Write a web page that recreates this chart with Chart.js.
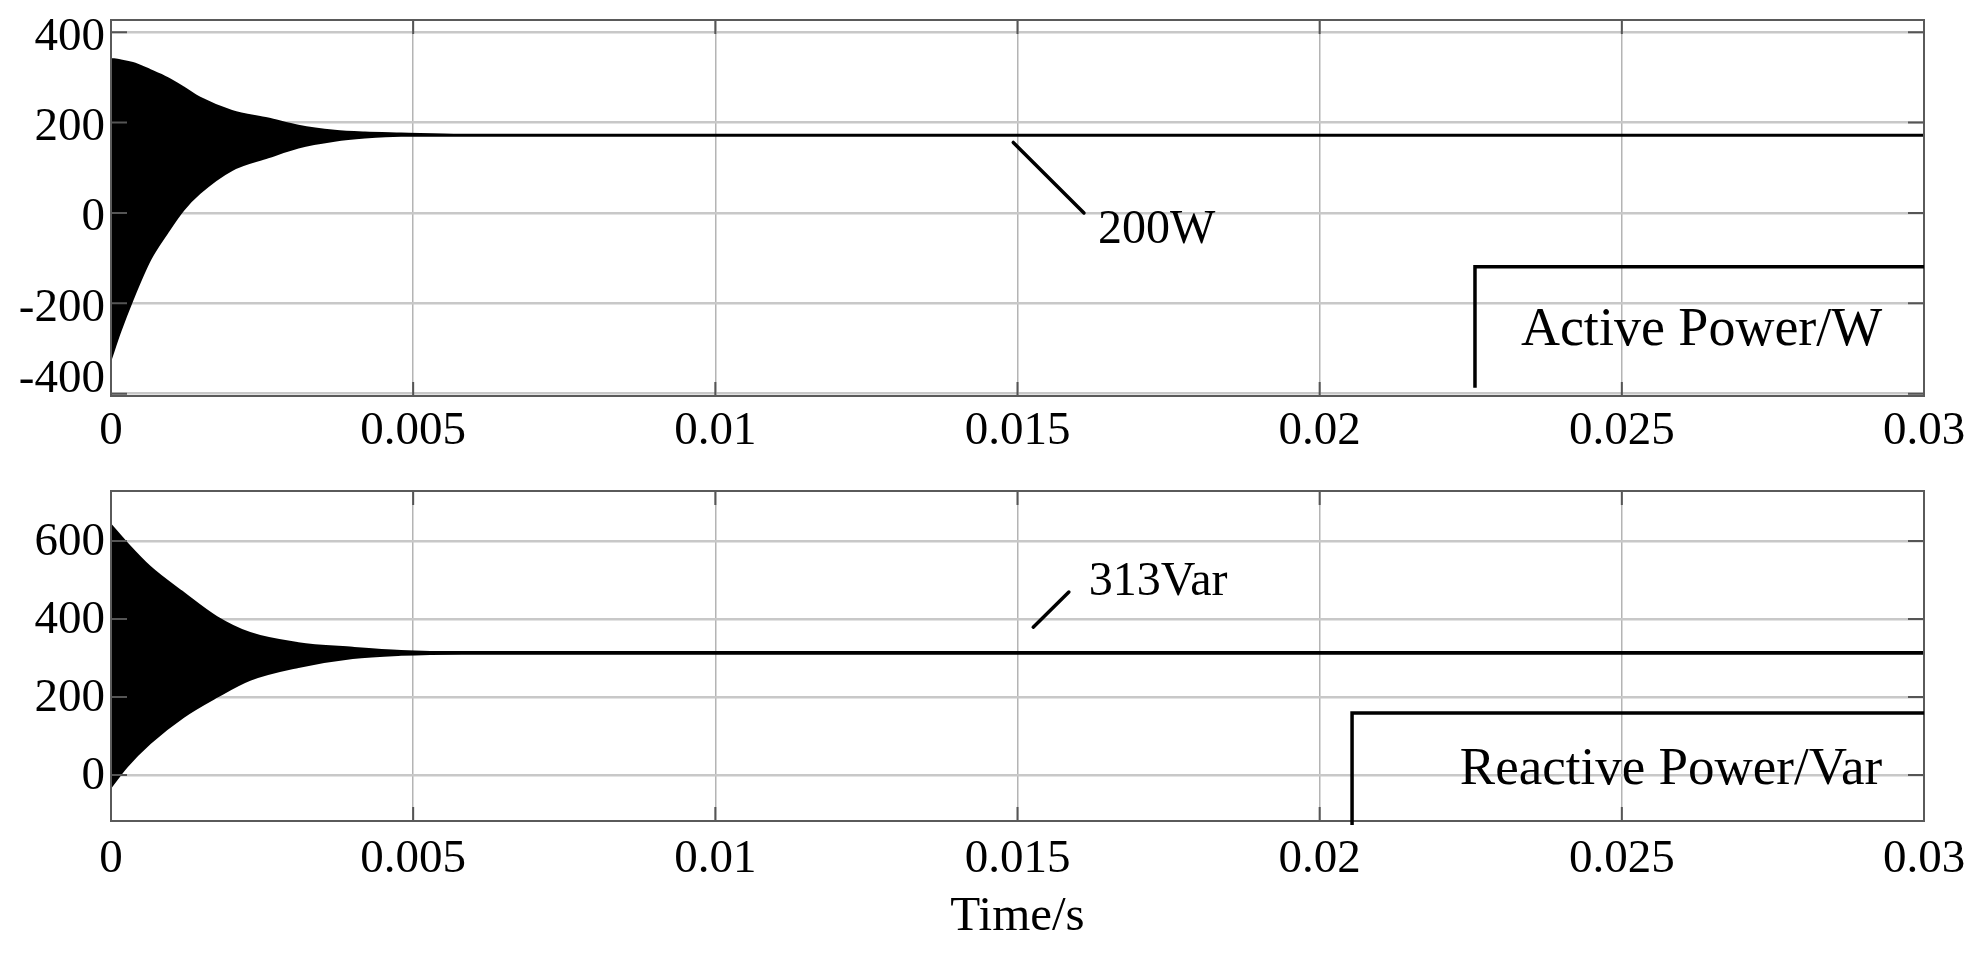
<!DOCTYPE html>
<html><head><meta charset="utf-8">
<script src="https://cdn.jsdelivr.net/npm/chart.js@4.4.1/dist/chart.umd.min.js"></script>
<style>
html,body{margin:0;padding:0;background:#fff;width:1968px;height:957px;overflow:hidden}
canvas{position:absolute;left:0}
#c1{top:0}
#c2{top:460px}
</style></head><body>
<canvas id="c1" width="1968" height="460"></canvas>
<canvas id="c2" width="1968" height="497"></canvas>
<script>
// ---- data ----
const xTickValues = [0, 0.005, 0.01, 0.015, 0.02, 0.025, 0.03];
const xTickLabels = ['0', '0.005', '0.01', '0.015', '0.02', '0.025', '0.03'];
const pTickValues = [-400, -200, 0, 200, 400];
const qTickValues = [0, 200, 400, 600];

// Active power: envelope of the decaying oscillation (upper / lower), then steady value
const pTime  = [0, 0.00015, 0.00036, 0.00065, 0.00093, 0.0012, 0.00147, 0.0020, 0.0026, 0.0031, 0.0037, 0.0042, 0.0048, 0.0058, 0.03];
const pUpper = [341, 338, 332, 316, 299, 278, 255, 226, 209, 193, 182, 178, 176, 173, 173];
const pLower = [-323, -264, -191, -103, -44, 7, 44, 95, 123, 145, 160, 167, 171, 171, 171];

// Reactive power: envelope of the decaying oscillation (upper / lower), then steady value
const qTime  = [0, 0.00026, 0.00065, 0.0012, 0.00175, 0.0023, 0.0031, 0.0040, 0.0048, 0.0058, 0.03];
const qUpper = [641, 595, 533, 467, 405, 364, 338, 326, 318, 315, 315];
const qLower = [-31, 21, 82, 149, 200, 244, 277, 300, 308, 311, 311];

// annotations (data units)
const pPointer = [[0.01493, 156], [0.0161, 0]];
const pNote = ['200W', 0.01633, -66];
const pStep = [[0.02257, -387], [0.02257, -119], [0.03, -119]];
const pTitle = ['Active Power/W', 0.02333, -292];

const qPointer = [[0.01526, 379], [0.01585, 469]];
const qNote = ['313Var', 0.01618, 461];
const qStep = [[0.020536, -128], [0.020536, 159], [0.03, 159]];
const qTitle = ['Reactive Power/Var', 0.02232, -23];

// ---- drawing ----
const FONT = 'Liberation Serif';

function pts(t, v) { return t.map((x, i) => ({x: x, y: v[i]})); }

function framePlugin(yTicks, pointer, note, step, title, titleSize) {
  return {
    id: 'frame',
    afterDatasetsDraw(chart) {
      const {ctx, chartArea: a, scales: {x, y}} = chart;
      ctx.save();
      // inner tick marks
      ctx.strokeStyle = '#555';
      ctx.lineWidth = 2;
      ctx.beginPath();
      yTicks.forEach(v => {
        const py = y.getPixelForValue(v);
        ctx.moveTo(a.left, py); ctx.lineTo(a.left + 16, py);
        ctx.moveTo(a.right, py); ctx.lineTo(a.right - 16, py);
      });
      xTickValues.forEach(v => {
        const px = x.getPixelForValue(v);
        ctx.moveTo(px, a.bottom); ctx.lineTo(px, a.bottom - 14);
        ctx.moveTo(px, a.top); ctx.lineTo(px, a.top + 14);
      });
      ctx.stroke();
      // frame
      ctx.strokeStyle = '#5a5a5a';
      ctx.lineWidth = 2;
      ctx.strokeRect(a.left, a.top, a.right - a.left, a.bottom - a.top);
      // pointer line
      ctx.strokeStyle = '#000';
      ctx.lineWidth = 3.5;
      ctx.lineCap = 'round';
      ctx.beginPath();
      ctx.moveTo(x.getPixelForValue(pointer[0][0]), y.getPixelForValue(pointer[0][1]));
      ctx.lineTo(x.getPixelForValue(pointer[1][0]), y.getPixelForValue(pointer[1][1]));
      ctx.stroke();
      // step line
      ctx.lineWidth = 3.5;
      ctx.lineJoin = 'miter';
      ctx.lineCap = 'butt';
      ctx.beginPath();
      step.forEach((p, i) => {
        const px = x.getPixelForValue(p[0]), py = y.getPixelForValue(p[1]);
        if (i === 0) ctx.moveTo(px, py); else ctx.lineTo(px, py);
      });
      ctx.stroke();
      // texts
      ctx.fillStyle = '#000';
      ctx.textAlign = 'left';
      ctx.textBaseline = 'alphabetic';
      ctx.font = '48px "' + FONT + '"';
      ctx.fillText(note[0], x.getPixelForValue(note[1]), y.getPixelForValue(note[2]));
      ctx.font = titleSize + 'px "' + FONT + '"';
      ctx.fillText(title[0], x.getPixelForValue(title[1]), y.getPixelForValue(title[2]));
      ctx.restore();
    }
  };
}

function makeChart(id, time, upper, lower, yMin, yMax, yTicks, padTop, xAxisH, xPad, yLabelOffset, showTitle, plugin) {
  const xScale = {
    type: 'linear', min: 0, max: 0.03,
    afterBuildTicks: s => { s.ticks = xTickValues.map(v => ({value: v})); },
    ticks: {
      callback: (v, i) => xTickLabels[i],
      font: {family: FONT, size: 47}, color: '#000',
      padding: xPad, maxRotation: 0, autoSkip: false
    },
    grid: {color: '#b4b4b4', lineWidth: 1.5, drawTicks: false},
    border: {display: false},
    afterFit: s => { s.height = xAxisH; s.paddingLeft = 0; s.paddingRight = 0; }
  };
  if (showTitle) {
    xScale.title = {display: true, text: 'Time/s', color: '#000',
      font: {family: FONT, size: 49}, padding: {top: 0, bottom: 10}};
  }
  return new Chart(document.getElementById(id), {
    type: 'line',
    data: {
      datasets: [
        {data: pts(time, upper), borderColor: '#000', backgroundColor: '#000',
         borderWidth: 2, pointRadius: 0, cubicInterpolationMode: 'monotone', fill: '+1'},
        {data: pts(time, lower), borderColor: '#000', backgroundColor: '#000',
         borderWidth: 2, pointRadius: 0, cubicInterpolationMode: 'monotone', fill: false}
      ]
    },
    options: {
      responsive: false, animation: false, devicePixelRatio: 1,
      layout: {padding: {top: padTop, right: 44, bottom: 0, left: 0}},
      plugins: {legend: {display: false}, tooltip: {enabled: false}},
      scales: {
        x: xScale,
        y: {
          type: 'linear', min: yMin, max: yMax,
          afterBuildTicks: s => { s.ticks = yTicks.map(v => ({value: v})); },
          ticks: {
            // the lowest label of the top plot sits above its grid line, as in the original
            callback: v => (v === yMin + 5 ? [String(v), ''] : String(v)),
            font: {family: FONT, size: 47, lineHeight: 0.8}, color: '#000',
            padding: 6, labelOffset: yLabelOffset
          },
          grid: {color: '#c8c8c8', lineWidth: 2.5, drawTicks: false},
          border: {display: false},
          afterFit: s => { s.width = 111; s.paddingTop = 0; s.paddingBottom = 0; }
        }
      }
    },
    plugins: [plugin]
  });
}

makeChart('c1', pTime, pUpper, pLower, -405, 427, pTickValues, 20, 64, 7, 5, false,
  framePlugin(pTickValues, pPointer, pNote, pStep, pTitle, 54));
makeChart('c2', qTime, qUpper, qLower, -118, 728, qTickValues, 31, 136, 10, 2, true,
  framePlugin(qTickValues, qPointer, qNote, qStep, qTitle, 53));
</script>
</body></html>
